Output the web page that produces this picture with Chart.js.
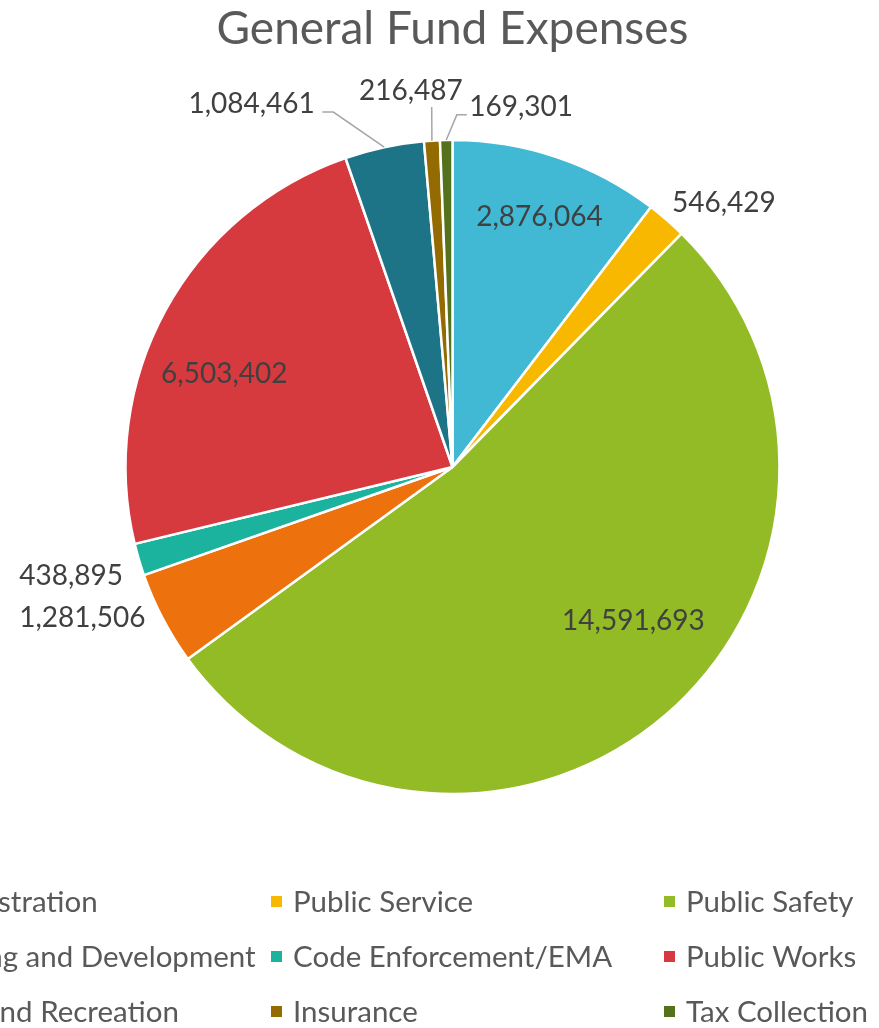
<!DOCTYPE html>
<html>
<head>
<meta charset="utf-8">
<script src="https://cdn.jsdelivr.net/npm/chart.js@4.4.1/dist/chart.umd.min.js"></script>
<style>
  html, body { margin: 0; padding: 0; background: #ffffff; overflow: hidden; }
  #wrap { position: relative; width: 879px; height: 1028px; }
</style>
</head>
<body>
<div id="wrap"><canvas id="c" width="879" height="1028"></canvas></div>
<script>
// ---- Data ----
const chartTitle = 'General Fund Expenses';
const categories = [
  'Administration', 'Public Service', 'Public Safety',
  'Planning and Development', 'Code Enforcement/EMA', 'Public Works',
  'Parks and Recreation', 'Insurance', 'Tax Collection'
];
const expenses = [2876064, 546429, 14591693, 1281506, 438895, 6503402, 1084461, 216487, 169301];
const sliceColors = ['#41B8D4', '#F8B800', '#92BB25', '#ED710C', '#1CB39E', '#D63A3F', '#1E7487', '#936B00', '#54711B'];

// ---- Label placement (relative to each slice's middle angle) ----
const labelAngleShift   = [0.5, 4.9, -8.9, 5.5, 0.5, -6.4, -16.9, -2.7, 11.9];   // degrees
const labelRadiusFactor = [0.809, 1.157, 0.726, 1.222, 1.213, 0.754, 1.269, 1.157, 1.121];
const leaderElbowShift  = [null, null, null, null, null, null, -6.5, 0.3, 1.8];  // degrees
const leaderElbowFactor = [null, null, null, null, null, null, 1.145, 1.103, 1.077];
const leaderTail        = [0, 0, 0, 0, 0, 0, -11, 0, 10];

const FONT = 'Lato, "Open Sans", sans-serif';

const labelPlugin = {
  id: 'sliceLabels',
  afterDatasetsDraw(chart) {
    const ctx = chart.ctx;
    const meta = chart.getDatasetMeta(0);
    ctx.save();
    ctx.font = '28px ' + FONT;
    ctx.fillStyle = '#404040';
    ctx.textAlign = 'center';
    ctx.textBaseline = 'middle';
    meta.data.forEach((arc, i) => {
      const p = arc.getProps(['x', 'y', 'startAngle', 'endAngle', 'outerRadius'], true);
      const mid = (p.startAngle + p.endAngle) / 2;
      const R = p.outerRadius;
      const a = mid + labelAngleShift[i] * Math.PI / 180;
      const lx = p.x + Math.cos(a) * R * labelRadiusFactor[i];
      const ly = p.y + Math.sin(a) * R * labelRadiusFactor[i];
      const text = expenses[i].toLocaleString('en-US');
      if (leaderElbowShift[i] !== null) {
        const ea = mid + leaderElbowShift[i] * Math.PI / 180;
        const ex = p.x + Math.cos(ea) * R * leaderElbowFactor[i];
        const ey = p.y + Math.sin(ea) * R * leaderElbowFactor[i];
        ctx.beginPath();
        ctx.strokeStyle = '#A6A6A6';
        ctx.lineWidth = 1.5;
        ctx.moveTo(p.x + Math.cos(mid) * R, p.y + Math.sin(mid) * R);
        ctx.lineTo(ex, ey);
        if (leaderTail[i] !== 0) ctx.lineTo(ex + leaderTail[i], ey);
        ctx.stroke();
      }
      ctx.fillText(text, lx, ly);
    });
    ctx.restore();
  }
};

const titleLegendPlugin = {
  id: 'titleLegend',
  afterDraw(chart) {
    const ctx = chart.ctx;
    ctx.save();
    ctx.fillStyle = '#595959';
    ctx.textAlign = 'center';
    ctx.textBaseline = 'middle';
    ctx.font = '46px ' + FONT;
    ctx.fillText(chartTitle, 452.5, 29);

    const colX = [-93, 293, 686];
    const rowY = [902, 957, 1012];
    ctx.font = '29.5px ' + FONT;
    ctx.textAlign = 'left';
    categories.forEach((name, i) => {
      const cx = colX[i % 3];
      const cy = rowY[Math.floor(i / 3)];
      ctx.fillStyle = sliceColors[i];
      ctx.fillRect(cx - 22, cy - 6, 11, 11);
      ctx.fillStyle = '#595959';
      ctx.fillText(name, cx, cy);
    });
    ctx.restore();
  }
};

new Chart(document.getElementById('c'), {
  type: 'pie',
  data: {
    labels: categories,
    datasets: [{
      data: expenses,
      backgroundColor: sliceColors,
      borderColor: '#ffffff',
      borderWidth: 2.5
    }]
  },
  options: {
    responsive: false,
    animation: false,
    radius: 327,
    layout: { padding: { left: 26, right: 0, top: 0, bottom: 94 } },
    plugins: {
      legend: { display: false },
      title: { display: false },
      tooltip: { enabled: false }
    }
  },
  plugins: [labelPlugin, titleLegendPlugin]
});
</script>
</body>
</html>
